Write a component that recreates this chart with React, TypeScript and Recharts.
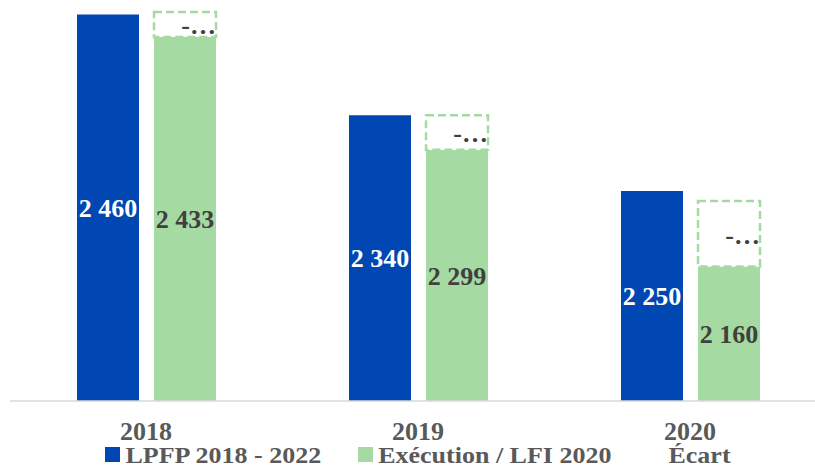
import React from "react"
import { Bar, BarChart, LabelList, XAxis, YAxis } from "recharts"

const years = ["2018", "2019", "2020"]
const lpfp = [2460, 2340, 2250]
const execution = [2433, 2299, 2160]
// height of the dashed "Écart" box
const ecart = [30, 41, 78]

const seriesNames = ["LPFP 2018 - 2022", "Exécution / LFI 2020", "Écart"]
const seriesColors = ["#0047b3", "#a6daa3", "transparent"]

const data = years.map((year, i) => ({
  year,
  lpfp: lpfp[i],
  execution: execution[i],
  ecart: ecart[i],
}))

const font = "'Liberation Serif', 'Times New Roman', serif"

const fmt = (v: any) => {
  const n = Number(v)
  return `${Math.floor(n / 1000)} ${String(n % 1000).padStart(3, "0")}`
}

const EcartLabel = (props: any) => {
  const { x, y, width, height } = props
  return (
    <text
      x={x + width}
      y={y + height / 2}
      dy={10}
      textAnchor="end"
      fill="#404040"
      fontSize={26}
      fontWeight="bold"
      fontFamily={font}
    >
      -…
    </text>
  )
}

export default function App() {
  return (
    <div style={{ position: "absolute", left: 0, top: 0, width: 815, height: 469, overflow: "hidden", background: "#fff" }}>
      <BarChart
        width={830}
        height={469}
        data={data}
        margin={{ top: 6, right: 4, left: 10, bottom: 38 }}
        barSize={62}
        barGap={15}
      >
        <XAxis
          dataKey="year"
          height={30}
          tickLine={false}
          axisLine={{ stroke: "#d9d9d9", strokeWidth: 1.5 }}
          tickMargin={15}
          tick={{ fill: "#595959", fontSize: 26, fontWeight: "bold", fontFamily: font }}
        />
        <YAxis hide domain={[2000, 2470]} allowDataOverflow />
        <Bar dataKey="lpfp" stackId="lpfp" fill={seriesColors[0]} isAnimationActive={false}>
          <LabelList
            dataKey="lpfp"
            position="center"
            formatter={fmt}
            fill="#ffffff"
            fontSize={26}
            fontWeight="bold"
            fontFamily={font}
          />
        </Bar>
        <Bar dataKey="execution" stackId="exec" fill={seriesColors[1]} isAnimationActive={false}>
          <LabelList
            dataKey="execution"
            position="center"
            formatter={fmt}
            fill="#404040"
            fontSize={26}
            fontWeight="bold"
            fontFamily={font}
          />
        </Bar>
        <Bar
          dataKey="ecart"
          stackId="exec"
          fill="#ffffff"
          stroke="#a6daa3"
          strokeWidth={2.5}
          strokeDasharray="8 4"
          isAnimationActive={false}
        >
          <LabelList dataKey="ecart" content={EcartLabel} />
        </Bar>
      </BarChart>
      <div
        style={{
          position: "absolute",
          left: 0,
          top: 441,
          width: 836,
          display: "flex",
          justifyContent: "center",
          fontFamily: font,
          fontWeight: "bold",
          fontSize: 26,
          lineHeight: 1,
          color: "#595959",
        }}
      >
        {seriesNames.map((name, i) => (
          <div key={name} style={{ display: "flex", alignItems: "flex-start", marginRight: i < seriesNames.length - 1 ? 37 : 0 }}>
            <div style={{ width: 15, height: 15, marginTop: 6, marginRight: 5, background: seriesColors[i] }} />
            <span style={{ display: "inline-block", transform: "scaleY(0.85)", transformOrigin: "bottom", whiteSpace: "nowrap" }}>
              {name}
            </span>
          </div>
        ))}
      </div>
    </div>
  )
}
